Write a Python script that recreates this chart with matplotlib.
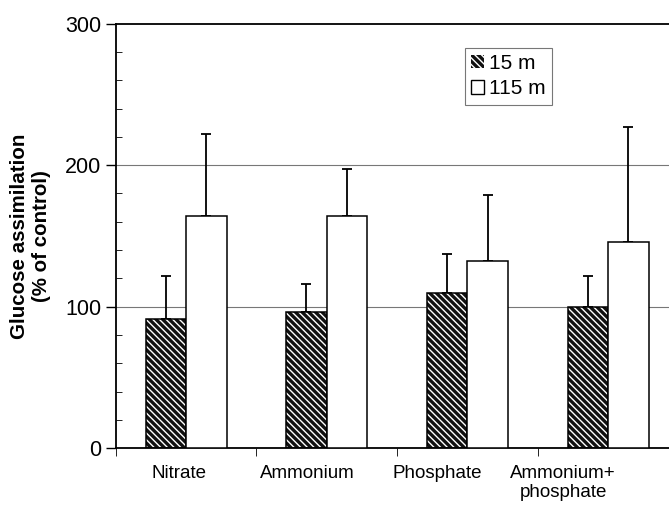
import numpy as np
import matplotlib.pyplot as plt
from matplotlib.patches import Patch
from matplotlib.ticker import MultipleLocator

plt.rcParams['font.family'] = ['Liberation Sans', 'DejaVu Sans']

# %% data
categories = ['Nitrate', 'Ammonium', 'Phosphate', 'Ammonium+\nphosphate']
m15 = [91, 96, 110, 100]
m15_err = [31, 20, 27, 22]
m115 = [164, 164, 132, 146]
m115_err = [58, 33, 47, 81]

# %% plot
x = np.arange(len(categories))
w = 0.288
# category labels in the original drift left of their bar groups
label_shift = np.array([-0.05, -0.14, -0.215, -0.32])

fig = plt.figure(figsize=(6.69, 5.14), dpi=100)
ax = fig.add_axes([0.173, 0.128, 0.841, 0.826])

for y in [100, 200]:
    ax.axhline(y, color='#777777', lw=0.8, zorder=0)

# hatched 15 m bars: black fill, white hatch, then a black outline on top
ax.bar(x - w/2, m15, w, color='#111111', edgecolor='white', hatch='\\\\\\\\\\',
       linewidth=0, zorder=2)
ax.bar(x - w/2, m15, w, fill=False, edgecolor='black', linewidth=1.1, zorder=3)
ax.errorbar(x - w/2, m15, yerr=[np.zeros(4), m15_err], fmt='none',
            ecolor='black', elinewidth=1.3, capsize=3.5, capthick=1.3, zorder=1)

ax.bar(x + w/2, m115, w, color='white', edgecolor='black', linewidth=1.1, zorder=3)
ax.errorbar(x + w/2, m115, yerr=[np.zeros(4), m115_err], fmt='none',
            ecolor='black', elinewidth=1.3, capsize=3.5, capthick=1.3, zorder=1)

ax.set_xlim(-0.5, 3.5)
ax.set_ylim(0, 300)
ax.set_yticks([0, 100, 200, 300])
ax.yaxis.set_minor_locator(MultipleLocator(20))
ax.tick_params(axis='y', which='major', direction='out', length=7, width=1, labelsize=15.5)
ax.tick_params(axis='y', which='minor', direction='in', length=4, width=0.6)

ax.set_xticks(x + label_shift)
ax.set_xticklabels(categories, fontsize=13.5)
ax.set_xticks([-0.5, 0.5, 1.5, 2.5], minor=True)
ax.tick_params(axis='x', which='major', length=0, pad=12)
ax.tick_params(axis='x', which='minor', direction='out', length=6, width=0.6)

for s in ['left', 'bottom', 'top']:
    ax.spines[s].set_linewidth(1.3)
ax.spines['right'].set_visible(False)

ax.set_ylabel('Glucose assimilation\n(% of control)', fontsize=14.8,
              fontweight='bold', labelpad=10)

handles = [Patch(facecolor='#111111', edgecolor='white', hatch='\\\\\\\\\\', linewidth=0),
           Patch(facecolor='white', edgecolor='black', linewidth=1)]
leg = ax.legend(handles, ['15 m', '115 m'], loc='upper left',
                bbox_to_anchor=(0.621, 0.943), fontsize=15, frameon=True,
                fancybox=False, handlelength=0.6, handleheight=0.6,
                handletextpad=0.25, borderpad=0.3, labelspacing=0.3,
                borderaxespad=0)
leg.get_frame().set_edgecolor('#555555')
leg.get_frame().set_linewidth(0.8)

fig.savefig('out.png', dpi=100)
